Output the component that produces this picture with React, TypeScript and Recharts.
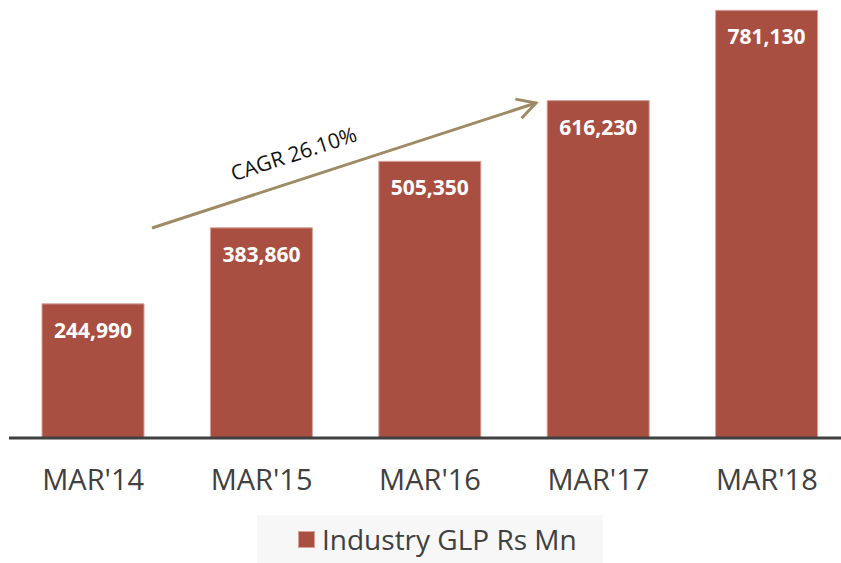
import { BarChart, Bar, XAxis, YAxis, Legend, LabelList, Customized } from "recharts"

const FONT = "'Open Sans', 'Liberation Sans', sans-serif"
const BAR_FILL = "#a84f42"
const BAR_EDGE = "#d9a09a"
const AXIS_GREY = "#404040"

const years = ["MAR'14", "MAR'15", "MAR'16", "MAR'17", "MAR'18"]
const glp = [244990, 383860, 505350, 616230, 781130]
const seriesName = "Industry GLP Rs Mn"
const cagrText = "CAGR 26.10%"

const chartData = years.map((year, i) => ({ year, glp: glp[i] }))

// annotation arrow, drawn over the plot
function CagrArrow() {
  const x1 = 152
  const y1 = 228
  const x2 = 536
  const y2 = 103
  const ang = Math.atan2(y2 - y1, x2 - x1)
  const len = 21
  const spread = 0.5
  const a1 = [x2 - len * Math.cos(ang - spread), y2 - len * Math.sin(ang - spread)]
  const a2 = [x2 - len * Math.cos(ang + spread), y2 - len * Math.sin(ang + spread)]
  const deg = (ang * 180) / Math.PI
  return (
    <g>
      <line x1={x1} y1={y1} x2={x2} y2={y2} stroke="#9e8b66" strokeWidth={3} />
      <polyline
        points={`${a1[0]},${a1[1]} ${x2},${y2} ${a2[0]},${a2[1]}`}
        fill="none"
        stroke="#9e8b66"
        strokeWidth={3}
      />
      <text
        x={296}
        y={161}
        transform={`rotate(${deg} 296 161)`}
        textAnchor="middle"
        fontFamily={FONT}
        fontSize={21}
        fill="#111"
      >
        {cagrText}
      </text>
    </g>
  )
}

function LegendBox() {
  return (
    <div
      style={{
        width: 346,
        height: 48,
        boxSizing: "border-box",
        paddingLeft: 41,
        background: "#f7f7f7",
        display: "flex",
        alignItems: "center",
        gap: 7,
        fontFamily: FONT,
        fontSize: 28,
        color: AXIS_GREY,
      }}
    >
      <span style={{ width: 15, height: 15, background: BAR_FILL, border: `1px solid ${BAR_EDGE}`, display: "inline-block" }} />
      <span>{seriesName}</span>
    </div>
  )
}

export default function App() {
  return (
    <div style={{ position: "absolute", left: 0, top: 0, width: 841, height: 563, overflow: "hidden", background: "#fff" }}>
      <BarChart
        width={851}
        height={563}
        data={chartData}
        margin={{ top: 0, right: 0, bottom: 0, left: 9 }}
        barSize={102}
      >
        <YAxis hide domain={[0, 800000]} />
        <XAxis
          dataKey="year"
          height={125}
          axisLine={{ stroke: AXIS_GREY, strokeWidth: 3 }}
          tickLine={false}
          tickMargin={25}
          tick={{ fontSize: 29, fill: AXIS_GREY, fontFamily: FONT }}
          interval={0}
        />
        <Bar dataKey="glp" name={seriesName} fill={BAR_FILL} stroke={BAR_EDGE} strokeWidth={1} isAnimationActive={false}>
          <LabelList
            dataKey="glp"
            position="insideTop"
            offset={19}
            formatter={(v: number) => v.toLocaleString("en-US")}
            style={{ fill: "#fff", fontWeight: 700, fontSize: 21, fontFamily: FONT }}
          />
        </Bar>
        <Legend
          layout="horizontal"
          verticalAlign="middle"
          align="center"
          wrapperStyle={{ left: 257, top: 515, width: 346 }}
          content={() => <LegendBox />}
        />
        <Customized component={CagrArrow} />
      </BarChart>
    </div>
  )
}
